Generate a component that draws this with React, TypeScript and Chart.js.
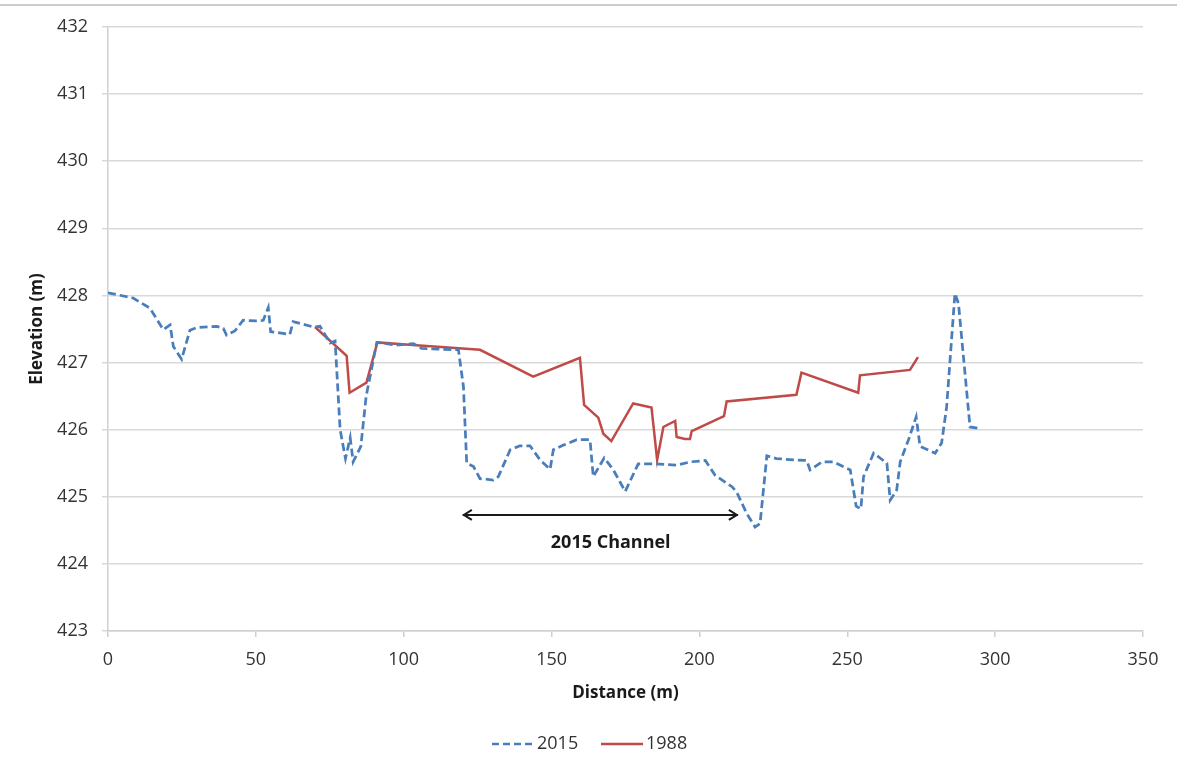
import React, { useEffect, useRef } from "react";
import { Chart, registerables } from "chart.js";

Chart.register(...registerables);

const distance2015 = [0, 8.5, 14.2, 18.7, 21, 22.1, 24.9, 27.7, 30, 36.7, 39, 40.1, 42.9, 45.7, 50.3, 52.5, 54.2, 55, 61.5, 62.6, 69.4, 71.7, 75.1, 76.8, 78.5, 80.3, 81.9, 82.9, 85.5, 87.3, 90.9, 97.6, 103.3, 106.1, 118.5, 120.2, 121.3, 123.6, 125.8, 130.3, 132, 136, 139.3, 142.7, 146.1, 149.5, 150.6, 154, 158.5, 163, 164.1, 167.8, 170.9, 174.9, 179.3, 185, 192.3, 196.9, 202, 205.3, 211, 212.6, 216, 218.8, 220.5, 222.8, 226.1, 231.8, 236.3, 237.4, 241.4, 245.3, 251, 253, 254.6, 255.5, 258.9, 263.4, 264.5, 266.7, 267.9, 270.7, 273.3, 274.6, 279.7, 281.9, 283.6, 286.4, 287.6, 291.5, 294.4];
const elevation2015 = [428.04, 427.96, 427.81, 427.49, 427.56, 427.24, 427.05, 427.48, 427.52, 427.54, 427.51, 427.41, 427.47, 427.63, 427.62, 427.63, 427.82, 427.46, 427.42, 427.61, 427.53, 427.54, 427.29, 427.32, 426.0, 425.57, 425.88, 425.52, 425.75, 426.5, 427.3, 427.26, 427.28, 427.21, 427.19, 426.64, 425.5, 425.45, 425.27, 425.25, 425.3, 425.7, 425.76, 425.76, 425.55, 425.41, 425.7, 425.77, 425.85, 425.85, 425.3, 425.58, 425.4, 425.08, 425.49, 425.49, 425.47, 425.52, 425.54, 425.32, 425.15, 425.07, 424.75, 424.55, 424.6, 425.61, 425.57, 425.55, 425.54, 425.4, 425.52, 425.52, 425.4, 424.86, 424.82, 425.3, 425.65, 425.5, 424.95, 425.1, 425.52, 425.85, 426.19, 425.75, 425.65, 425.8, 426.34, 428.03, 427.88, 426.04, 426.02];

const distance1988 = [70, 80.7, 81.7, 87.4, 91.1, 103, 125.8, 143.8, 159.6, 161, 165.8, 167.5, 170.2, 177.6, 183.8, 185.7, 187.8, 191.8, 192.3, 195.1, 196.8, 197.4, 208.3, 209.2, 232.8, 234.5, 253.7, 254.3, 271.2, 273.9];
const elevation1988 = [427.53, 427.1, 426.55, 426.7, 427.3, 427.26, 427.19, 426.79, 427.07, 426.37, 426.18, 425.94, 425.83, 426.39, 426.33, 425.55, 426.04, 426.13, 425.89, 425.86, 425.86, 425.98, 426.2, 426.42, 426.52, 426.85, 426.55, 426.81, 426.89, 427.08];

const seriesLabels = ["2015", "1988"];
const channelArrowX = [120, 213];
const channelArrowY = 424.73;
const channelLabel = "2015 Channel";
const channelLabelX = 170;
const channelLabelY = 424.31;

const FONT = "'Open Sans', 'Noto Sans', sans-serif";
const BLUE = "#4a7ebb";
const RED = "#be4b48";

const extrasPlugin = {
  id: "extras",
  beforeDraw(chart: any) {
    const ctx = chart.ctx;
    ctx.save();
    ctx.fillStyle = "#ffffff";
    ctx.fillRect(0, 0, chart.width, chart.height);
    ctx.strokeStyle = "#cccccc";
    ctx.lineWidth = 2;
    ctx.beginPath();
    ctx.moveTo(0, 5);
    ctx.lineTo(chart.width, 5);
    ctx.stroke();
    ctx.restore();
  },
  afterDraw(chart: any) {
    const ctx = chart.ctx;
    const xs = chart.scales.x;
    const ys = chart.scales.y;
    ctx.save();
    const x1 = xs.getPixelForValue(channelArrowX[0]);
    const x2 = xs.getPixelForValue(channelArrowX[1]);
    const ya = ys.getPixelForValue(channelArrowY);
    ctx.strokeStyle = "#1a1a1a";
    ctx.lineWidth = 2;
    ctx.beginPath();
    ctx.moveTo(x1, ya);
    ctx.lineTo(x2, ya);
    ctx.stroke();
    ctx.beginPath();
    ctx.moveTo(x1 + 9, ya - 5);
    ctx.lineTo(x1 + 1, ya);
    ctx.lineTo(x1 + 9, ya + 5);
    ctx.moveTo(x2 - 9, ya - 5);
    ctx.lineTo(x2 - 1, ya);
    ctx.lineTo(x2 - 9, ya + 5);
    ctx.stroke();
    ctx.fillStyle = "#1a1a1a";
    ctx.font = "bold 18px " + FONT;
    ctx.textAlign = "center";
    ctx.textBaseline = "middle";
    ctx.fillText(channelLabel, xs.getPixelForValue(channelLabelX), ys.getPixelForValue(channelLabelY));

    const ly = 744;
    ctx.font = "18px " + FONT;
    ctx.textAlign = "left";
    ctx.fillStyle = "#333333";
    ctx.lineWidth = 2.5;
    ctx.strokeStyle = BLUE;
    ctx.setLineDash([7, 4]);
    ctx.beginPath();
    ctx.moveTo(492, ly);
    ctx.lineTo(535, ly);
    ctx.stroke();
    ctx.setLineDash([]);
    ctx.fillText(seriesLabels[0], 537, ly);
    ctx.strokeStyle = RED;
    ctx.beginPath();
    ctx.moveTo(601, ly);
    ctx.lineTo(643, ly);
    ctx.stroke();
    ctx.fillText(seriesLabels[1], 646, ly);
    ctx.restore();
  },
};

export default function App() {
  const canvasRef = useRef<HTMLCanvasElement | null>(null);

  useEffect(() => {
    const data2015 = distance2015.map((x, i) => ({ x, y: elevation2015[i] }));
    const data1988 = distance1988.map((x, i) => ({ x, y: elevation1988[i] }));
    const chart = new Chart(canvasRef.current as HTMLCanvasElement, {
      type: "scatter",
      data: {
        datasets: [
          {
            label: seriesLabels[0],
            data: data2015,
            showLine: true,
            borderColor: BLUE,
            backgroundColor: BLUE,
            borderWidth: 2.75,
            borderDash: [8, 4],
            pointRadius: 0,
            tension: 0,
          },
          {
            label: seriesLabels[1],
            data: data1988,
            showLine: true,
            borderColor: RED,
            backgroundColor: RED,
            borderWidth: 2.5,
            pointRadius: 0,
            tension: 0,
          },
        ],
      },
      options: {
        animation: false,
        responsive: true,
        maintainAspectRatio: false,
        layout: { padding: { left: 0, right: 34, top: 27, bottom: 47 } },
        plugins: {
          legend: { display: false },
          tooltip: { enabled: false },
        },
        scales: {
          x: {
            type: "linear",
            min: 0,
            max: 350,
            ticks: { stepSize: 50, color: "#333333", font: { family: FONT, size: 18 }, padding: 12 },
            grid: { drawOnChartArea: false, drawTicks: true, tickLength: 6, color: "#d0d0d0", lineWidth: 1.5 },
            border: { color: "#d0d0d0", width: 1.5 },
            title: {
              display: true,
              text: "Distance (m)",
              color: "#1a1a1a",
              font: { family: FONT, size: 17, weight: "bold" },
              padding: { top: 0, bottom: 8 },
            },
            afterFit: (scale: any) => {
              scale.height = 80;
            },
          },
          y: {
            type: "linear",
            min: 423,
            max: 432,
            ticks: { stepSize: 1, color: "#333333", font: { family: FONT, size: 18 }, padding: 14 },
            grid: { color: "#d9d9d9", lineWidth: 1.5, tickLength: 6 },
            border: { color: "#d0d0d0", width: 1.5 },
            title: {
              display: true,
              text: "Elevation (m)",
              color: "#1a1a1a",
              font: { family: FONT, size: 17, weight: "bold" },
              padding: { top: 27, bottom: 0 },
            },
            afterFit: (scale: any) => {
              scale.width = 108;
            },
          },
        },
      },
      plugins: [extrasPlugin],
    } as any);
    return () => chart.destroy();
  }, []);

  return (
    <div style={{ position: "absolute", left: 0, top: 0, width: 1177, height: 758, background: "#fff" }}>
      <canvas ref={canvasRef} />
    </div>
  );
}
